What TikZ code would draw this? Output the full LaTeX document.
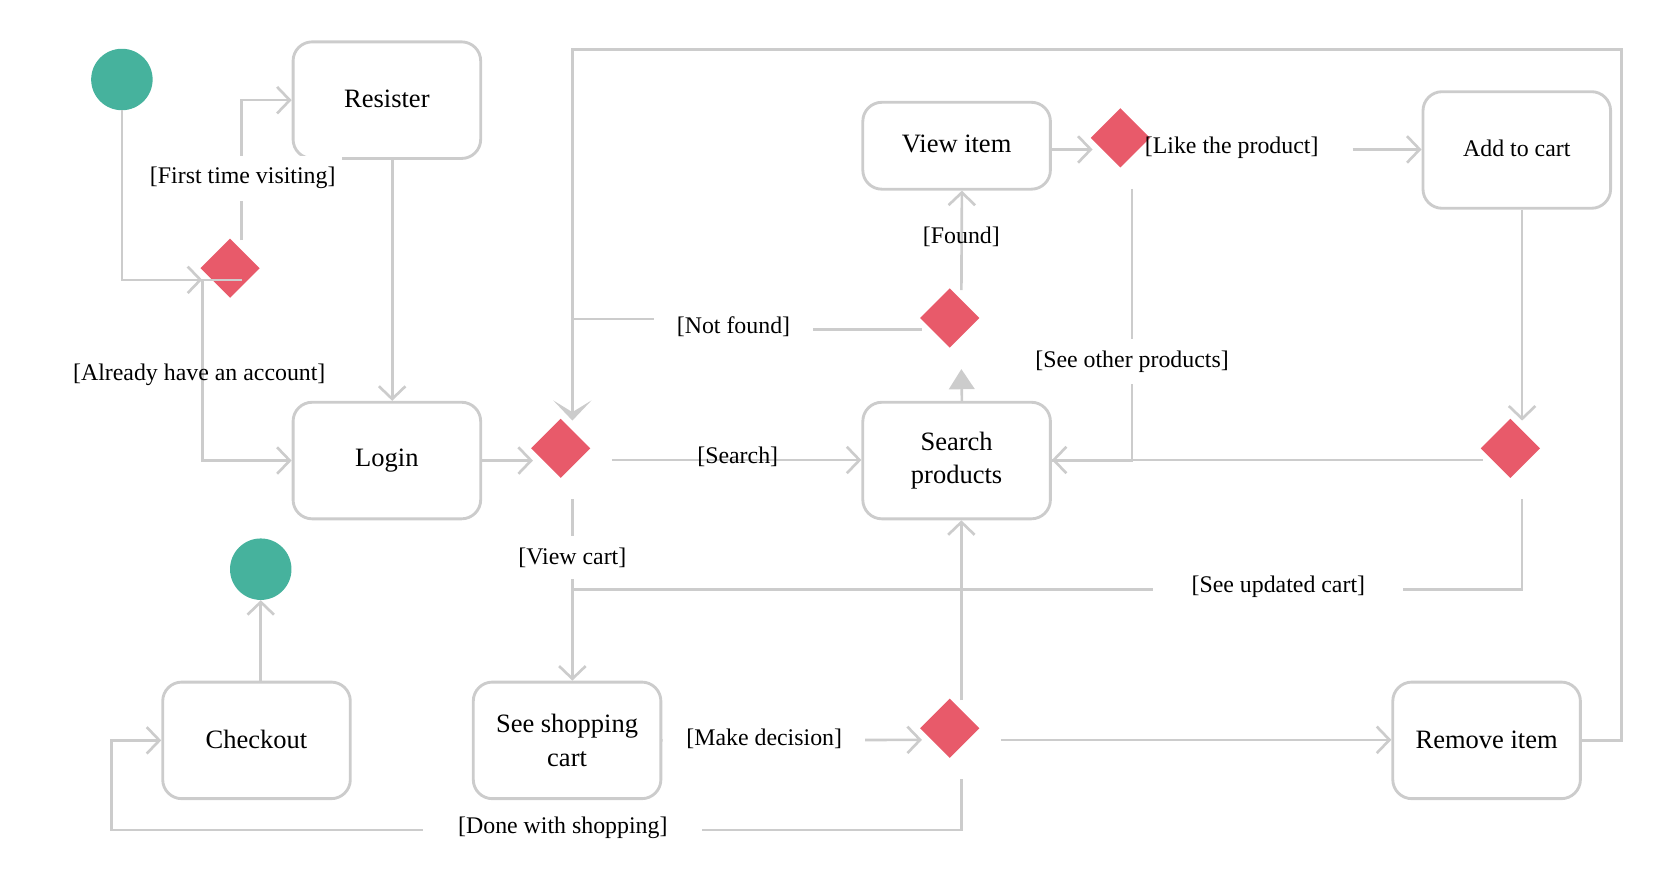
\documentclass[tikz,border=0pt]{standalone}
\usepackage{fontspec}
\setmainfont{Liberation Serif}
\usetikzlibrary{arrows.meta,shapes.geometric,calc}
\definecolor{lgray}{HTML}{CCCCCC}
\definecolor{dred}{HTML}{E85A6A}
\definecolor{stteal}{HTML}{46B29D}
\tikzset{
  actbox/.style={draw=lgray, line width=2.7pt, rounded corners=18pt, fill=white,
    minimum width=177pt, minimum height=110pt, align=center, inner sep=0pt,
    font=\fontsize{25}{30}\selectfont, text=black},
  decnode/.style={draw=none, rectangle, minimum size=74pt, inner sep=0pt},
  dia/.style={diamond, fill=dred, draw=none, minimum width=56pt, minimum height=56pt, inner sep=0pt},
  dot/.style={circle, fill=stteal, draw=none, minimum size=58pt, inner sep=0pt},
  conn/.style={draw=lgray, line width=2.5pt},
  arr/.style={conn, -{Straight Barb[length=12pt,width=25pt]}},
  tarr/.style={conn, -{Triangle[length=19pt,width=24pt]}},
  sarr/.style={conn, -{Stealth[length=19pt,width=36pt,inset=11pt]}},
  lab/.style={font=\fontsize{22.5}{27}\selectfont, text=black, inner sep=0pt},
  labw/.style={lab, fill=white, inner ysep=11pt},
}
\begin{document}
\begin{tikzpicture}[x=1pt,y=-1pt]
\useasboundingbox (0,0) rectangle (1568,840);
% activity boxes
\node[actbox] (res) at (365,94.5) {\raisebox{2pt}{Resister}};
\node[actbox] (login) at (365,434.5) {Login};
\node[actbox, minimum height=82pt] (view) at (902.5,137.5) {\raisebox{4pt}{View item}};
\node[actbox, font=\fontsize{22.5}{27}\selectfont] (cart) at (1431,141.5) {\raisebox{4pt}{Add to cart}};
\node[actbox] (search) at (902.5,434.5) {\raisebox{1pt}{Search}\\products};
\node[actbox] (checkout) at (242,698.5) {\raisebox{2pt}{Checkout}};
\node[actbox] (shop) at (535,698.5) {\raisebox{2pt}{See shopping}\\cart};
\node[actbox] (remove) at (1402.5,698.5) {\raisebox{2pt}{Remove item}};
% start / end
\node[dot] (start) at (115,75) {};
\node[dot] (endc) at (246,537) {};
% decision nodes (logical) and their drawn diamonds
\node[decnode] (d1) at (228,264) {};
\node[decnode] (d2) at (540,434) {};
\node[decnode] (d3) at (907,311) {};
\node[decnode] (d4) at (1068,141) {};
\node[decnode] (d5) at (1436,434) {};
\node[decnode] (d6) at (907,698) {};
\node[dia] (d1v) at ([shift={(-11pt,11pt)}]d1.center) {};
\node[dia] (d2v) at ([shift={(-11pt,11pt)}]d2.center) {};
\node[dia] (d3v) at ([shift={(-11pt,11pt)}]d3.center) {};
\node[dia] (d4v) at ([shift={(-11pt,11pt)}]d4.center) {};
\node[dia] (d5v) at ([shift={(-11pt,11pt)}]d5.center) {};
\node[dia] (d6v) at ([shift={(-11pt,11pt)}]d6.center) {};
% helper coordinates
\coordinate (tr) at (1530,47);
\coordinate (j1) at (540,556);
\coordinate (bl) at (105,783);
\coordinate (nf1) at (692,311);
\coordinate (nf2) at (692,301);
\coordinate (nf3) at (540,301);
% connectors
\draw[arr] (start.south) |- (d1.west);
\draw[arr] (d1.center) -- (d1.west) |- (login.west);
\draw[arr] (d1.north) |- (res.west);
\draw[arr] ([xshift=5pt]res.south) -- ([xshift=5pt]login.north);
\draw[arr] (login.east) -- (login.east -| d2.west);
\draw[arr] (d2.east) -- (search.west |- d2);
\draw[arr] (d2.south) -- ([xshift=5pt]shop.north);
\draw[tarr] ([xshift=5pt]search.north) -- (d3.south);
\draw[arr] (d3.north) -- ([xshift=5pt]view.south);
\draw[conn] (d3.west) -- (nf1) -- (nf2) -- (nf3);
\draw[sarr] (remove.east) -| (tr) -| (d2.north);
\draw[arr] (view.east |- d4) -- (d4.west);
\draw[conn] (d4.south) |- (search.east);
\draw[arr] ([xshift=5pt]cart.south) -- (d5.north);
\draw[arr] (d5.west) -- (search.east |- d5);
\draw[conn] (d5.south) |- (j1);
\draw[arr] (d6.north) -- (d6.north |- search.south);
\draw[arr] (shop.east) -- (d6.west);
\draw[arr] (d6.east) -- (remove.west |- d6);
\draw[arr] (d6.south) |- (bl) |- (checkout.west);
\draw[arr] ([xshift=4pt]checkout.north) -- (endc.south);
% labels
\node[labw, inner xsep=6pt] (lfirst) at (229,168) {[First time visiting]};
\node[lab] (lalready) at (188,354) {[Already have an account]};
\node[lab] (lsearch) at (696,431) {[Search]};
\node[labw, inner xsep=22pt] (lnot) at (692,308) {[Not found]};
\node[lab] (lfound) at (907,223) {[Found]};
\node[lab, inner xsep=32pt] (llike) at (1162,139) {[Like the product]};
\draw[arr] (llike.east |- d4) -- (cart.west |- d4);
\node[labw, inner xsep=4pt] (lother) at (1068,341) {[See other products]};
\node[labw, inner xsep=6pt] (lview) at (540,526) {[View cart]};
\node[labw, inner xsep=36pt] (lupd) at (1206,554) {[See updated cart]};
\node[labw, inner xsep=22pt] (lmake) at (721,697) {[Make decision]};
\node[labw, inner xsep=33pt] (ldone) at (531,781) {[Done with shopping]};
\end{tikzpicture}
\end{document}
